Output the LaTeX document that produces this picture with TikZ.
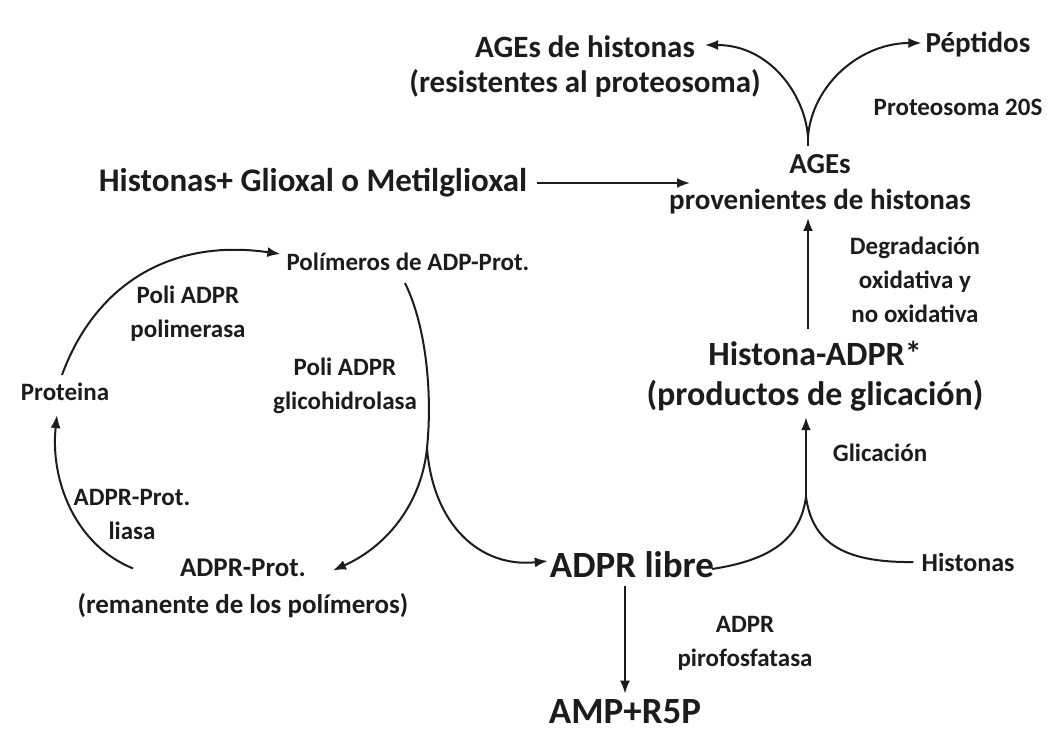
\documentclass[tikz,border=0pt]{standalone}
\usepackage{fontspec}
\setmainfont{Carlito}
\usetikzlibrary{arrows.meta}
\definecolor{ink}{RGB}{28,28,28}
\tikzset{
  lbl/.style={font=\bfseries\fontsize{25}{34}\selectfont, align=center, inner sep=0pt, text=ink},
  mid/.style={font=\bfseries\fontsize{29}{36}\selectfont, align=center, inner sep=0pt, text=ink},
  big/.style={font=\bfseries\fontsize{34}{40}\selectfont, align=center, inner sep=0pt, text=ink},
  ln/.style={line width=2pt, draw=ink},
  arr/.style={ln, -{Latex[length=13pt,width=10pt]}},
}
\begin{document}
\begin{tikzpicture}[x=1pt,y=-1pt]
\useasboundingbox[fill=white] (0,0) rectangle (1052,738);

% top right
\node[mid,font=\bfseries\fontsize{31}{36}\selectfont] (ageh1) at (585,47) {AGEs de histonas};
\node[mid,font=\bfseries\fontsize{31}{36}\selectfont] (ageh2) at (585,83) {(resistentes al proteosoma)};
\node[mid] (pep) at (978,45) {Péptidos};
\node[lbl] (p20) at (958,107) {Proteosoma 20S};
\node[mid] (ages) at (820,184) {AGEs\\provenientes de histonas};
\node[big,font=\bfseries\fontsize{33}{40}\selectfont] (hgm) at (313,183) {Histonas+ Glioxal o Metilglioxal};
\node[lbl] (deg) at (915,280) {Degradación\\oxidativa y\\no oxidativa};
\node[big] (hadpr) at (815,376) {Histona-ADPR*\\(productos de glicación)};
\node[lbl] (glic) at (880,453) {Glicación};
\node[big,font=\bfseries\fontsize{37}{40}\selectfont] (adprl) at (632,565) {ADPR libre};
\node[lbl,font=\bfseries\fontsize{26}{34}\selectfont] (hist) at (968,562) {Histonas};
\node[lbl] (piro) at (745,643) {ADPR\\pirofosfatasa};
\node[big,font=\bfseries\fontsize{37}{40}\selectfont] (amp) at (625,712) {AMP+R5P};

% left cycle
\node[lbl] (poly) at (408,262) {Polímeros de ADP-Prot.};
\node[lbl] (prote) at (65,392) {Proteina};
\node[mid,font=\bfseries\fontsize{27}{37}\selectfont] (adprp) at (243,588) {ADPR-Prot.\\(remanente de los polímeros)};
\node[lbl] (polim) at (188,314) {Poli ADPR\\polimerasa};
\node[lbl] (glico) at (345,386) {Poli ADPR\\glicohidrolasa};
\node[lbl] (liasa) at (132,514) {ADPR-Prot.\\liasa};

% junctions
\coordinate (j1) at (808,137);
\coordinate (j2) at (806,497);
\coordinate (j3) at (427,448);
\coordinate (hgmend) at (690,183);

% arrows top right
\draw[arr] (hgm.east) ++(10,0) -- (hgmend);
\draw[ln] (ages.north -| j1) ++(0,-8) -- (j1);
\draw[arr] (j1) .. controls (805,95) and (770,45) .. ([xshift=10pt,yshift=2pt]ageh1.east);
\draw[arr] (j1) .. controls (812,85) and (860,43) .. ([xshift=-4pt,yshift=2pt]pep.west);
\draw[arr] ([yshift=12pt]hadpr.north -| j1) -- ([yshift=-4pt]ages.south -| j1);
\draw[arr] (j2) -- ([yshift=-6pt]hadpr.south -| j2);
\draw[ln] ([xshift=-2pt,yshift=-4pt]adprl.east) .. controls (770,560) and (800,540) .. (j2);
\draw[ln] ([xshift=-8pt]hist.west) .. controls (840,563) and (812,540) .. (j2);
\draw[arr] ([yshift=-8pt]adprl.south -| amp.north) -- ([yshift=6pt]amp.north);

% left cycle arrows
\draw[arr] ([xshift=-3pt,yshift=8pt]prote.north) .. controls (95,285) and (170,238) .. ([xshift=-6pt,yshift=8pt]poly.west);
\draw[ln] ([xshift=-3pt,yshift=-12pt]poly.south) .. controls (428,330) and (432,400) .. (j3);
\draw[arr] (j3) .. controls (422,500) and (390,545) .. ([xshift=90pt,yshift=-12pt]adprp.north);
\draw[arr] (j3) .. controls (433,525) and (480,568) .. ([xshift=-2pt,yshift=4pt]adprl.west);
\draw[arr] ([xshift=-110pt,yshift=-10pt]adprp.north) .. controls (75,545) and (50,480) .. ([xshift=-8pt,yshift=-14pt]prote.south);
\end{tikzpicture}
\end{document}
